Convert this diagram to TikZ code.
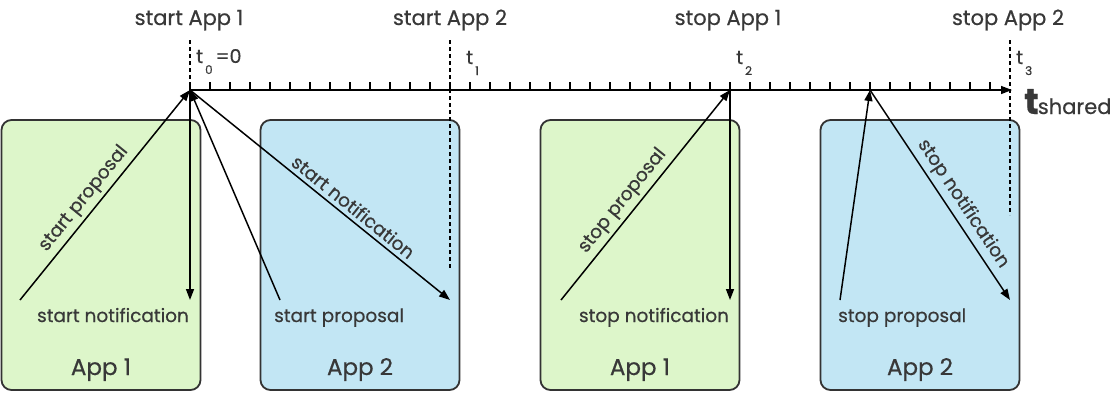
\documentclass[tikz,border=0pt]{standalone}
\usepackage{fontspec}
\setmainfont{Poppins}[FakeBold=0.5]
\usetikzlibrary{arrows.meta}
\definecolor{txt}{HTML}{383838}
\definecolor{gfill}{HTML}{DDF6CA}
\definecolor{bfill}{HTML}{C2E6F4}
\definecolor{edge}{HTML}{333333}
\begin{document}
\begin{tikzpicture}[x=1pt,y=-1pt,
  appbox/.style={draw=edge, line width=1.8pt, rounded corners=10pt, minimum width=199pt, minimum height=270pt, inner sep=0pt},
  arr/.style={line width=1.5pt, -{Triangle[length=11pt,width=8pt]}},
  plainline/.style={line width=1.5pt},
  guide/.style={line width=1.5pt, dash pattern=on 4pt off 3pt},
  lbl/.style={text=txt, font=\fontsize{18.5}{19}\selectfont, inner sep=0pt},
  toplbl/.style={text=txt, font=\fontsize{21}{21}\selectfont, inner sep=0pt, anchor=base},
  applbl/.style={text=txt, font=\fontsize{23}{23}\selectfont, inner sep=0pt, anchor=base},
  tlbl/.style={text=txt, font=\fontsize{19}{19}\selectfont, inner sep=0pt, anchor=base west},
]
\useasboundingbox (0,0) rectangle (1119,400);
% boxes
\node[appbox, fill=gfill] (b1) at (101,255) {};
\node[appbox, fill=bfill] (b2) at (360,255) {};
\node[appbox, fill=gfill] (b3) at (640,255) {};
\node[appbox, fill=bfill] (b4) at (920,255) {};
\node[applbl] (a1) at (101,375) {App 1};
\node[applbl] (a2) at (360,375) {App 2};
\node[applbl] (a3) at (640,375) {App 1};
\node[applbl] (a4) at (920,375) {App 2};
% time points
\coordinate (T0) at (190,90);
\coordinate (T1) at (450,90);
\coordinate (T2) at (730,90);
\coordinate (T3) at (1010,90);
\coordinate (TX) at (870,90);
\coordinate (T0top) at (190,40);
\coordinate (T1top) at (450,40);
\coordinate (T3top) at (1010,40);
\coordinate (T1bot) at (450,270);
\coordinate (T3bot) at (1010,215);
\coordinate (AxEnd) at (1012,90);
% ticks
\foreach \i in {0,...,40} \draw[plainline] (190+20*\i,90) -- (190+20*\i,82);
\draw[plainline, -{Triangle[length=11pt,width=8pt]}] (T0) -- (AxEnd);
% guides
\draw[guide] (T0top) -- (T0);
\draw[guide] (T1top) -- (T1bot);
\draw[guide] (T3top) -- (T3bot);
% labels at top
\node[toplbl] (s1) at (189,25) {start App 1};
\node[toplbl] (s2) at (450,25) {start App 2};
\node[toplbl] (s3) at (728,25) {stop App 1};
\node[toplbl] (s4) at (1008,25) {stop App 2};
\node[tlbl] (t0) at (196,63) {t\raisebox{-11pt}{\fontsize{12}{12}\selectfont\,0}\,=0};
\node[tlbl] (t1) at (466,64) {t\raisebox{-11pt}{\fontsize{12}{12}\selectfont\,1}};
\node[tlbl] (t2) at (736,64) {t\raisebox{-11pt}{\fontsize{12}{12}\selectfont\,2}};
\node[tlbl] (t3) at (1016,64) {t\raisebox{-11pt}{\fontsize{12}{12}\selectfont\,3}};
\node[text=txt, inner sep=0pt, anchor=base west] (ts) at (1024,114) {{\fontsize{36}{36}\selectfont\bfseries t}\hspace{-1pt}{\fontsize{21}{21}\selectfont shared}};
% endpoints of messages
\coordinate (p1) at (20,300);
\coordinate (n1) at (190,300);
\coordinate (p2) at (280,300);
\coordinate (n2) at (450,300);
\coordinate (p3) at (561,300);
\coordinate (n3) at (730,300);
\coordinate (p4) at (840,300);
\coordinate (n4) at (1010,300);
% arrows
\draw[arr] (p1) -- node[lbl, pos=0.44, above=4pt, sloped] {start proposal} (T0);
\draw[arr] (T0) -- (n1);
\draw[arr] (p2) -- (T0);
\draw[arr] (T0) -- node[lbl, pos=0.6, above=4pt, sloped] {start notification} (n2);
\draw[arr] (p3) -- node[lbl, pos=0.43, above=4pt, sloped] {stop proposal} (T2);
\draw[arr] (T2) -- (n3);
\draw[arr] (p4) -- (TX);
\draw[arr] (TX) -- node[lbl, pos=0.58, above=4pt, sloped] {stop notification} (n4);
% bottom labels
\node[lbl, anchor=base] (l1) at (113,322) {start notification};
\node[lbl, anchor=base west] (l2) at (274,322) {start proposal};
\node[lbl, anchor=base] (l3) at (654,322) {stop notification};
\node[lbl, anchor=base west] (l4) at (838,322) {stop proposal};
\end{tikzpicture}
\end{document}
